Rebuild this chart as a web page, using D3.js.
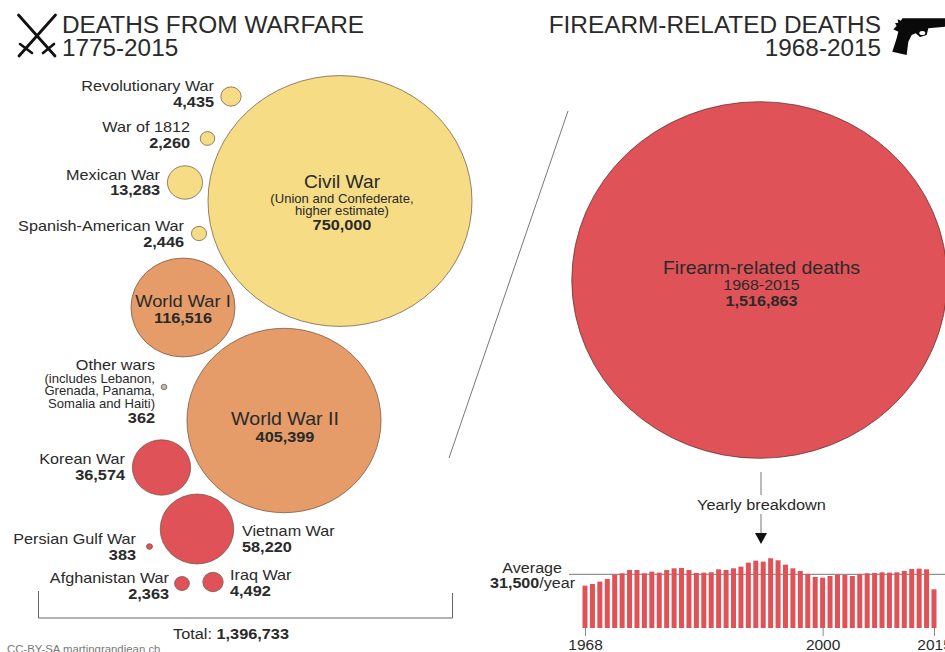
<!DOCTYPE html>
<html><head><meta charset="utf-8">
<script src="https://cdn.jsdelivr.net/npm/d3@7/dist/d3.min.js"></script>
<style>
html,body{margin:0;padding:0;background:#fff;overflow:hidden}
svg{display:block}
text{font-family:"Liberation Sans",Arial,sans-serif;fill:#2a2a2a}
</style></head><body>
<script>
// ---- data ----
const warNames = ["Revolutionary War","War of 1812","Mexican War","Spanish-American War","Civil War","World War I","Other wars","World War II","Korean War","Vietnam War","Persian Gulf War","Afghanistan War","Iraq War"];
const warDeaths = [4435,2260,13283,2446,750000,116516,362,405399,36574,58220,383,2363,4492];
const warEra = ["early","early","early","early","early","mid","late","mid","late","late","late","late","late"];
const firearmTotal = 1516863;
const warTotal = 1396733;
const averagePerYear = 31500;
const years = d3.range(1968,2016);
const yearlyDeaths = [24850,25830,27200,28760,31300,32090,34040,34040,32090,33060,32480,34040,35020,35220,34040,32280,32480,32670,34430,34040,35020,36000,38350,39520,38930,40890,39720,37170,35020,33460,31700,29930,29540,30520,31300,31110,30520,31700,32090,32280,32670,32480,32670,33460,34630,34830,34430,22700];
const yearTicks = [1968,2000,2015];

// ---- hand layout of the bubbles and labels (x, y, label x, name baseline, anchor) ----
const bubbleX = [231,207.5,185,199,340,183,164,284,161.5,197,149.5,182,213];
const bubbleY = [96.5,138.5,182.5,233.5,201,307.5,387,420.5,467.5,529,546.5,583.5,582];
const labelX  = [214,190,160,184,342,183,155,285,125,242,136,169,230];
const labelY  = [91,132,179.5,231,188,307,370,424.5,464,536,544,583,580];
const labelAnchor = ["end","end","end","end","middle","middle","end","middle","end","start","end","end","start"];
const labelSize = [16.2,16.2,16.2,16.2,19.2,18.3,16.2,19.6,16.2,16.2,16.2,16.2,16.2];
const labelNotes = {4:["(Union and Confederate,","higher estimate)"],6:["(includes Lebanon,","Grenada, Panama,","Somalia and Haiti)"]};

const fmt = d3.format(",");
const W=945,H=652, squash=0.95;
const svg=d3.select("body").append("svg").attr("width",W).attr("height",H);
const color=d3.scaleOrdinal(["early","mid","late"],["#f5dc85","#e59c68","#df5257"]);
const r=d3.scaleSqrt().domain([0,750000]).range([0,132]);

// the reference is stretched sideways, so is its text
function T(x,y,s,size,anchor,bold,fill){
  return svg.append("text").attr("transform",`translate(${x},${y}) scale(${1/squash},1)`).text(s).attr("font-size",size*squash)
    .attr("text-anchor",anchor||"start").attr("font-weight",bold?"bold":null).style("fill",fill||null);
}

// swords
const swords=svg.append("g").attr("stroke","#111").attr("fill","none").attr("stroke-linecap","round");
[[18.5,15,55,56,2.8],[55.5,15,19,56,2.8],[20,44,32,53,2.6],[54,44,43,53,2.6]].forEach(d=>
  swords.append("line").attr("x1",d[0]).attr("y1",d[1]).attr("x2",d[2]).attr("y2",d[3]).attr("stroke-width",d[4]));
// gun
const gun=svg.append("g").attr("transform","translate(845,0) scale(0.3333)");
gun.append("path").attr("fill","#0a0a0a").attr("d","M158,58L168,62L172,55L300,55L300,80L250,85L245,105L225,111L212,100L200,105L190,125L185,165L142,155L155,115L160,95L145,88L155,78L150,70L160,68Z");
gun.append("ellipse").attr("cx",232).attr("cy",99).attr("rx",9).attr("ry",6).attr("fill","#fff");

// titles
T(62,33,"DEATHS FROM WARFARE",24.4);
T(62,56,"1775-2015",24.3);
T(881,33,"FIREARM-RELATED DEATHS",24.4,"end");
T(881,56,"1968-2015",24.3,"end");

// war bubbles
svg.append("g").selectAll("ellipse").data(warDeaths).join("ellipse")
  .attr("cx",(d,i)=>bubbleX[i]).attr("cy",(d,i)=>bubbleY[i])
  .attr("rx",d=>r(d)).attr("ry",d=>r(d)*squash)
  .attr("fill",(d,i)=>i===6?"#b9b9b9":color(warEra[i]))
  .attr("stroke","#6a5040").attr("stroke-width",0.7);

warNames.forEach((n,i)=>{
  let y=labelY[i];
  T(labelX[i],y,n,labelSize[i],labelAnchor[i]);
  const notes=labelNotes[i];
  if(notes){
    y += i===4?15:13;
    notes.forEach((t,j)=>{T(labelX[i],y,t,13.1,labelAnchor[i]); if(j<notes.length-1) y+=12.3;});
    y += i===4?14.5:15;
  } else y += i===7?17:15.5;
  T(labelX[i],y,fmt(warDeaths[i]),16.3,labelAnchor[i],true);
});

// divider
svg.append("line").attr("x1",568).attr("y1",111).attr("x2",449).attr("y2",458).attr("stroke","#777").attr("stroke-width",1);

// bracket + total
svg.append("path").attr("d","M38.5,591V618H452.5V593").attr("fill","none").attr("stroke","#666").attr("stroke-width",1);
const tot=T(231,639,"Total: ",16.3,"middle");
tot.append("tspan").attr("font-weight","bold").text(fmt(warTotal));
T(7,653,"CC-BY-SA martingrandjean.ch",11.4,"start",false,"#777");

// firearm bubble
svg.append("ellipse").attr("cx",759.5).attr("cy",280).attr("rx",r(firearmTotal)).attr("ry",r(firearmTotal)*squash)
  .attr("fill","#df5257").attr("stroke","#5a2a2a").attr("stroke-width",0.7);
T(761.5,274,"Firearm-related deaths",19.5,"middle");
T(761.5,290,"1968-2015",16,"middle");
T(761.5,305.5,fmt(firearmTotal),16.2,"middle",true);

// breakdown arrow
svg.append("line").attr("x1",761).attr("y1",472).attr("x2",761).attr("y2",495).attr("stroke","#777");
T(761.5,510,"Yearly breakdown",16.3,"middle");
svg.append("line").attr("x1",761).attr("y1",514).attr("x2",761).attr("y2",534).attr("stroke","#777");
svg.append("path").attr("d","M755,533H767L761,544Z").attr("fill","#111");

// yearly bars
const x=d3.scaleLinear().domain([1968,2015]).range([585,934]);
const y=d3.scaleLinear().domain([0,averagePerYear]).range([628,574.3]);
svg.append("line").attr("x1",569).attr("x2",W).attr("y1",y(averagePerYear)).attr("y2",y(averagePerYear)).attr("stroke","#777");
svg.append("g").selectAll("rect").data(yearlyDeaths).join("rect")
  .attr("x",(d,i)=>x(years[i])-2.5).attr("width",5).attr("y",d=>y(d)).attr("height",d=>y(0)-y(d)).attr("fill","#df5257");
const axis=d3.axisBottom(x).tickValues(yearTicks).tickFormat(d3.format("d")).tickSize(8).tickPadding(3);
const ax=svg.append("g").attr("transform","translate(0,628)").call(axis);
ax.select(".domain").remove();
ax.selectAll("line").attr("stroke","#888");
ax.selectAll("text").attr("font-size",15.5).attr("font-family",null).style("fill","#2a2a2a");

T(562,573,"Average",16.1,"end");
const av=T(575,588,"",16.1,"end");
av.append("tspan").attr("font-weight","bold").text(fmt(averagePerYear));
av.append("tspan").text("/year");
</script></body></html>
